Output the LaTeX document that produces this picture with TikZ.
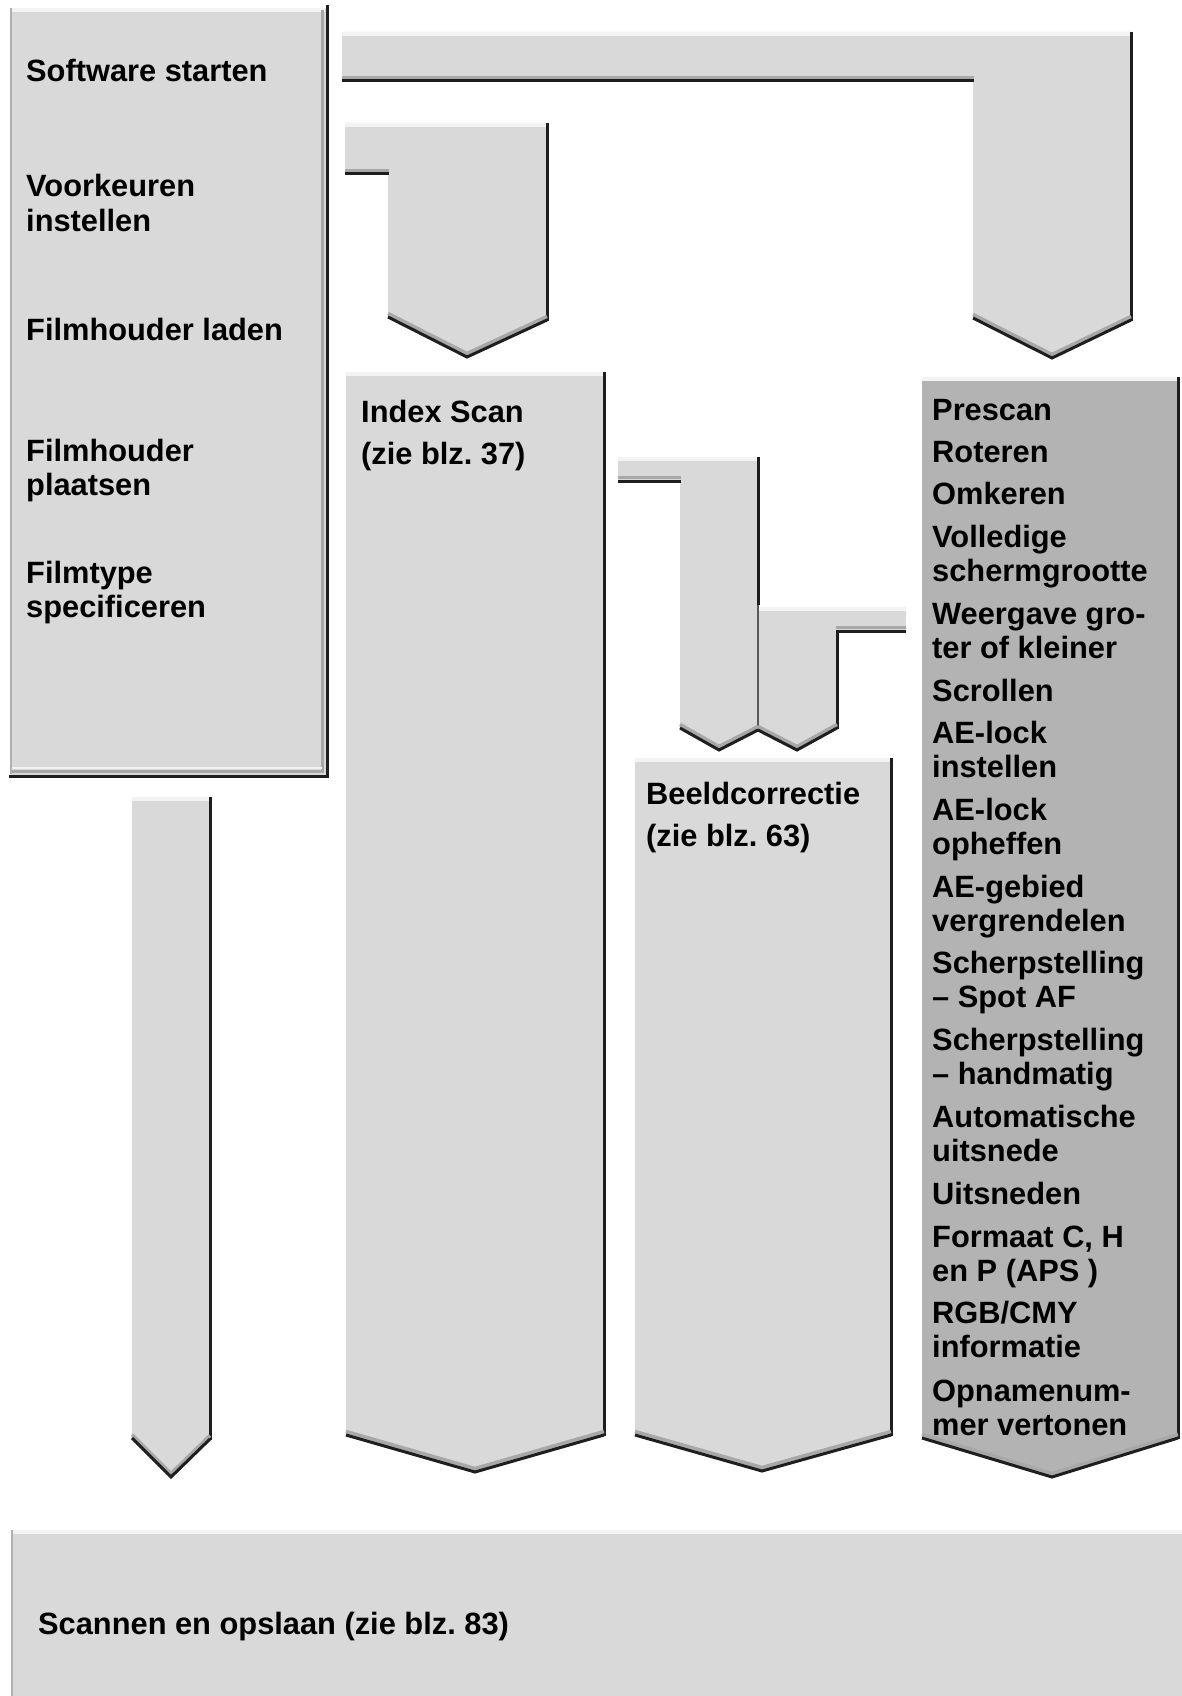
\documentclass[tikz,border=0pt]{standalone}
\usepackage{fontspec}
\setmainfont{Liberation Sans}
\definecolor{boxL}{HTML}{D9D9D9}
\definecolor{boxD}{HTML}{B3B3B3}
\definecolor{hiC}{HTML}{F3F3F3}
\definecolor{bandL}{HTML}{A8A8A8}
\definecolor{bandD}{HTML}{1E1E1E}
\definecolor{edgeG}{HTML}{B0B0B0}
\newcommand\mychev[6]{%
  \draw[bandL, line width=3.5pt] (#1,#2-3.5) -- (#3,#4-3.5) -- (#5,#6-3.5);
  \draw[bandD, line width=3pt] (#1,#2) -- (#3,#4) -- (#5,#6);}
\newcommand\myredge[3]{\draw[bandD, line width=3pt] (#1,#2) -- (#1,#3);}
\newcommand\mytop[3]{\draw[hiC, line width=4pt] (#1,#3+2) -- (#2,#3+2);}
\newcommand\mybot[3]{%
  \draw[bandL, line width=3.5pt] (#1,#3-3.5) -- (#2,#3-3.5);
  \draw[bandD, line width=3pt] (#1,#3) -- (#2,#3);}
\frenchspacing
\begin{document}
\begin{tikzpicture}[x=1pt,y=-1pt,
  lab/.style={anchor=base west, inner sep=0pt, font=\fontsize{30.8}{34}\selectfont\bfseries},
  shaft/.style={fill=boxL},
  shaftD/.style={fill=boxD}]
\useasboundingbox (0,0) rectangle (1182,1696);
\fill[white] (0,0) rectangle (1182,1696);

% ---------- left box
\fill[boxL] (10,8) rectangle (327,776);
\draw[hiC, line width=4pt] (10,10) -- (325,10);
\draw[edgeG, line width=2pt] (11,8) -- (11,774);
\draw[bandL, line width=3pt] (322.5,10) -- (322.5,772);
\draw[hiC, line width=2pt] (12,768) -- (322,768);
\draw[bandL, line width=3pt] (12,771.5) -- (324,771.5);
\myredge{327}{5}{777.5}
\draw[bandD, line width=3pt] (9,776) -- (328.5,776);

% ---------- top long arrow
\path[shaft] (342,32) -- (1131,32) -- (1131,320) -- (1052,358) -- (973,318) -- (973,82) -- (342,82) -- cycle;
\mytop{342}{1130}{32}
\mybot{342}{974}{81}
\myredge{1131}{32}{321}
\mychev{973}{318}{1052}{358}{1131}{320}

% ---------- second arrow (Voorkeuren)
\path[shaft] (345,123) -- (547,123) -- (547,320) -- (467,357) -- (388,317) -- (388,175) -- (345,175) -- cycle;
\mytop{345}{546}{123}
\mybot{345}{389}{174}
\myredge{547}{123}{321}
\mychev{388}{317}{467}{357}{547}{320}

% ---------- Index Scan
\path[shaft] (346,372) -- (604,372) -- (604,1435) -- (475,1472) -- (346,1435) -- cycle;
\mytop{346}{603}{372}
\myredge{604}{372}{1436}
\mychev{346}{1435}{475}{1472}{604}{1435}

% ---------- small arrows in middle
\path[shaft] (618,457) -- (758,457) -- (758,730) -- (719,750) -- (680,728) -- (680,482) -- (618,482) -- cycle;
\path[shaft] (758,607) -- (906,607) -- (906,632) -- (837,632) -- (837,728) -- (797,750) -- (758,730) -- cycle;
\mytop{618}{757}{457}
\mybot{618}{681}{481}
\myredge{758}{457}{605}
\draw[black!65, line width=1.5pt] (758,605) -- (758,730);
\mytop{759}{906}{607}
\mybot{836}{906}{631}
\myredge{837}{632}{729}
\mychev{680}{728}{719}{750}{758}{730}
\mychev{758}{730}{797}{750}{837}{728}

% ---------- Beeldcorrectie
\path[shaft] (635,758) -- (891,758) -- (891,1435) -- (762,1471) -- (635,1435) -- cycle;
\mytop{635}{890}{758}
\myredge{891}{758}{1436}
\mychev{635}{1435}{762}{1471}{891}{1435}

% ---------- right dark box
\path[shaftD] (922,377) -- (1178,377) -- (1178,1438) -- (1052,1477) -- (922,1438) -- cycle;
\mytop{922}{1177}{377}
\myredge{1178}{377}{1439}
\mychev{922}{1438}{1052}{1477}{1178}{1438}

% ---------- small left arrow
\path[shaft] (132,797) -- (210,797) -- (210,1439) -- (171,1477) -- (132,1438) -- cycle;
\mytop{132}{209}{797}
\myredge{210}{797}{1440}
\mychev{132}{1438}{171}{1477}{210}{1439}

% ---------- bottom box
\fill[boxL] (11,1530) rectangle (1182,1696);
\draw[hiC, line width=4pt] (11,1532) -- (1182,1532);
\draw[edgeG, line width=2pt] (12,1530) -- (12,1696);

% ---------- texts: left box
\node[lab] (t1) at (26,82) {Software starten};
\node[lab] (t2a) at (26,197) {Voorkeuren};
\node[lab] (t2b) at (26,232) {instellen};
\node[lab] (t3) at (26,340) {Filmhouder laden};
\node[lab] (t4a) at (26,461) {Filmhouder};
\node[lab] (t4b) at (26,495) {plaatsen};
\node[lab] (t5a) at (26,583) {Filmtype};
\node[lab] (t5b) at (26,617) {specificeren};

% ---------- Index Scan / Beeldcorrectie
\node[lab] (ia) at (361,422) {Index Scan};
\node[lab] (ib) at (361,464) {(zie blz. 37)};
\node[lab] (ba) at (646,804) {Beeldcorrectie};
\node[lab] (bb) at (646,846) {(zie blz. 63)};

% ---------- right box items
\node[lab] (r1) at (932,420) {Prescan};
\node[lab] (r2) at (932,462) {Roteren};
\node[lab] (r3) at (932,504) {Omkeren};
\node[lab] (r4a) at (932,547) {Volledige};
\node[lab] (r4b) at (932,581) {schermgrootte};
\node[lab] (r5a) at (932,624) {Weergave gro-};
\node[lab] (r5b) at (932,658) {ter of kleiner};
\node[lab] (r6) at (932,701) {Scrollen};
\node[lab] (r7a) at (932,743) {AE-lock};
\node[lab] (r7b) at (932,777) {instellen};
\node[lab] (r8a) at (932,820) {AE-lock};
\node[lab] (r8b) at (932,854) {opheffen};
\node[lab] (r9a) at (932,897) {AE-gebied};
\node[lab] (r9b) at (932,931) {vergrendelen};
\node[lab] (r10a) at (932,973) {Scherpstelling};
\node[lab] (r10b) at (932,1007) {– Spot AF};
\node[lab] (r11a) at (932,1050) {Scherpstelling};
\node[lab] (r11b) at (932,1084) {– handmatig};
\node[lab] (r12a) at (932,1127) {Automatische};
\node[lab] (r12b) at (932,1161) {uitsnede};
\node[lab] (r13) at (932,1204) {Uitsneden};
\node[lab] (r14a) at (932,1247) {Formaat C, H};
\node[lab] (r14b) at (932,1281) {en P (APS )};
\node[lab] (r15a) at (932,1323) {RGB/CMY};
\node[lab] (r15b) at (932,1357) {informatie};
\node[lab] (r16a) at (932,1401) {Opnamenum-};
\node[lab] (r16b) at (932,1435) {mer vertonen};

% ---------- bottom
\node[lab] (sc) at (38,1634) {Scannen en opslaan (zie blz. 83)};
\end{tikzpicture}
\end{document}
